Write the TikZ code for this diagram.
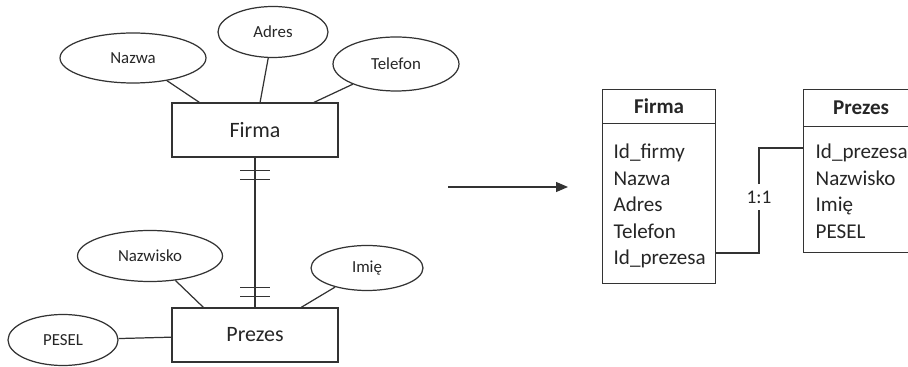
\documentclass[tikz,border=0pt]{standalone}
\usepackage{fontspec}
\setmainfont{Carlito}
\usetikzlibrary{shapes.geometric,arrows.meta}

\begin{document}
\begin{tikzpicture}[x=0.02cm,y=-0.02cm,line width=0.7pt,draw=black!80,
    every node/.style={text=black!85},
    attr/.style={ellipse,draw=black!80,inner sep=0pt,font=\fontsize{9.6}{11}\selectfont},
    entity/.style={rectangle,draw=black!80,minimum width=3.32cm,minimum height=1.08cm,font=\fontsize{12.5}{14}\selectfont},
    thead/.style={rectangle,draw=black!80,anchor=north west,minimum width=2.26cm,font=\bfseries\fontsize{12}{14}\selectfont},
    tbody/.style={rectangle,draw=black!80,anchor=north west,minimum width=2.26cm},
    row/.style={anchor=base west,inner sep=0pt,font=\fontsize{12}{14}\selectfont}]
   \useasboundingbox (0,0) rectangle (908,367);
   % ER diagram
   \node at (255,130) [entity] (firma) {Firma};
   \node at (255,335) [entity] (prezes) {Prezes};
   \node at (133,58) [attr,minimum width=2.92cm,minimum height=1cm] (nazwa) {Nazwa};
   \node at (273,32) [attr,minimum width=2.2cm,minimum height=1.02cm] (adres) {Adres};
   \node at (396,64) [attr,minimum width=2.52cm,minimum height=1.08cm] (telefon) {Telefon};
   \node at (150,256) [attr,minimum width=2.9cm,minimum height=1.02cm] (nazwisko) {Nazwisko};
   \node at (367,268) [attr,minimum width=2.24cm,minimum height=0.9cm] (imie) {Imię};
   \node at (63,340) [attr,minimum width=2.2cm,minimum height=1.02cm] (pesel) {PESEL};
   \draw (nazwa) -- ([xshift=0.56cm]firma.north west) (adres) -- (firma) (telefon) -- (firma);
   \draw (nazwisko) -- ([xshift=0.64cm]prezes.north west) (imie) -- (prezes) (pesel) -- (prezes);
   \draw (firma.south) -- (prezes.north);
   \foreach \d in {0.26,0.44}
      \draw ([xshift=-0.3cm,yshift=-\d cm]firma.south) -- ++(30,0);
   \foreach \d in {0.22,0.4}
      \draw ([xshift=-0.3cm,yshift=\d cm]prezes.north) -- ++(30,0);
   % arrow
   \coordinate (a0) at (448,187);
   \coordinate (a1) at (568,187);
   \draw[-{Triangle[length=0.24cm,width=0.2cm]}] (a0) -- (a1);
   % tables
   \node at (602,89) [thead,minimum height=0.68cm] (fhead) {Firma};
   \node at (602,123) [tbody,minimum height=3.2cm] (fbody) {};
   \foreach \t [count=\i] in {Id\_firmy,Nazwa,Adres,Telefon,Id\_prezesa}
      \node at (613,{132.5+26.5*\i}) [row] (f\i) {\t};
   \node at (803,89) [thead,minimum width=2.3cm,minimum height=0.74cm] (phead) {Prezes};
   \node at (803,126) [tbody,minimum width=2.3cm,minimum height=2.52cm] (pbody) {};
   \foreach \t [count=\i] in {Id\_prezesa,Nazwisko,Imię,PESEL}
      \node at (815,{132.5+26.5*\i}) [row] (p\i) {\t};
   \node at (759,197) [font=\fontsize{11}{13}\selectfont] (link) {1:1};
   \coordinate (fk) at (fbody.east |- f5.base);
   \coordinate (pk) at (pbody.west |- p1.base);
   \draw ([yshift=0.24cm]fk) -| (link.south);
   \draw (link.north) |- ([yshift=0.22cm]pk);
\end{tikzpicture}
\end{document}
